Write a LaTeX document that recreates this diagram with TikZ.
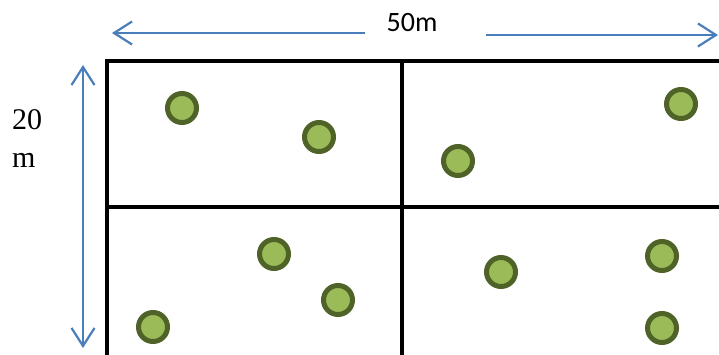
\documentclass[tikz,border=0pt]{standalone}
\usepackage{fontspec}
\setmainfont{Liberation Serif}
\newfontfamily\calibrifont{Carlito}
\usepackage{tikz}
\usetikzlibrary{arrows.meta, positioning}
\definecolor{arrowblue}{HTML}{4A7EBB}
\definecolor{treefill}{HTML}{9BBB59}
\definecolor{treeedge}{HTML}{4F6228}
\tikzset{
  barb/.tip={Straight Barb[length=18pt, width=23pt, line width=2.2pt]},
  dimarrow/.style={color=arrowblue, line width=2.2pt, -barb},
  tree/.style={fill=treefill, draw=treeedge, line width=5pt},
  gridline/.style={line width=3.3pt, color=black}
}
\begin{document}
\begin{tikzpicture}[x=1pt, y=-1pt]
\useasboundingbox (0, 0) rectangle (719, 355);
\draw [gridline] (107, 61) rectangle (730, 365);
\draw [gridline] (402, 61) -- (402, 365);
\draw [gridline] (107, 207) -- (730, 207);
\node [anchor=base, inner sep=0pt, font=\calibrifont\fontsize{28}{34}\selectfont] (width) at (412, 32) {50m};
\coordinate (wleft) at (365, 33);
\coordinate (wright) at (486, 35);
\coordinate (wleftend) at (112, 33);
\coordinate (wrightend) at (718, 35);
\draw [dimarrow] (wleft) -- (wleftend);
\draw [dimarrow] (wright) -- (wrightend);
\coordinate (htop) at (83, 65);
\coordinate (hbottom) at (83, 348);
\draw [dimarrow, barb-barb] (htop) -- (hbottom);
\node [anchor=base west, inner sep=0pt, align=left, font=\fontsize{30}{38}\selectfont] (height) at (12, 168) {20\\m};
\foreach \x/\y in {182/108, 319/137, 681/104, 458/161, 274/254, 338/300, 153/327, 501/272, 662/256, 662/328}
  \draw [tree] (\x, \y) circle (14.5pt);
\end{tikzpicture}
\end{document}
